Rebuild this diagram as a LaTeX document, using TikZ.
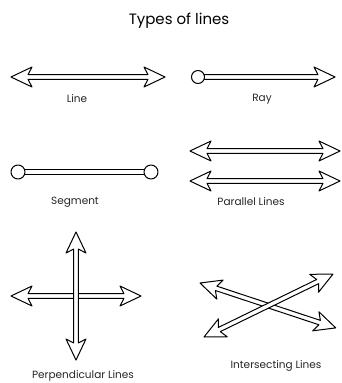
\documentclass[tikz,border=0pt]{standalone}
\usepackage{fontspec}
\setmainfont{Poppins}
\newcommand\hollowdbl[1]{%
  \path[arrowshape] (0,0) -- (21,10) -- (17,2.3) -- (#1-17,2.3) -- (#1-21,10) -- (#1,0)
    -- (#1-21,-10) -- (#1-17,-2.3) -- (17,-2.3) -- (21,-10) -- cycle;}
\newcommand\hollowray[2]{% #1 length, #2 circle radius
  \path[arrowshape] (#2-0.5,2.3) -- (#1-17,2.3) -- (#1-21,10) -- (#1,0)
    -- (#1-21,-10) -- (#1-17,-2.3) -- (#2-0.5,-2.3) -- cycle;
  \path[arrowshape] (0,0) circle (#2);}
\newcommand\hollowseg[2]{%
  \path[arrowshape] (0,2.3) -- (#1,2.3) -- (#1,-2.3) -- (0,-2.3) -- cycle;
  \path[arrowshape] (0,0) circle (#2) (#1,0) circle (#2);}
\tikzset{
  arrowshape/.style={draw=black, fill=white, line width=1pt, line join=round},
  lbl/.style={font=\fontsize{10.5}{12}\selectfont, text=black!85, inner sep=0pt},
}
\begin{document}
\begin{tikzpicture}[x=1pt,y=1pt]
\useasboundingbox[fill=white] (0,0) rectangle (341,-383);
\node[font=\fontsize{15}{18}\selectfont, inner sep=0pt] (title) at (179,-21) {Types of lines};
% Line
\begin{scope}[shift={(11,-77)}] \hollowdbl{154} \end{scope}
\node[lbl] (line) at (77,-99) {Line};
% Ray
\begin{scope}[shift={(198,-77)}] \hollowray{137}{6.5} \end{scope}
\node[lbl] (ray) at (262,-99) {Ray};
% Segment
\begin{scope}[shift={(18,-172)}] \hollowseg{133}{7} \end{scope}
\node[lbl] (seg) at (75,-202) {Segment};
% Parallel
\begin{scope}[shift={(190,-151)}] \hollowdbl{150} \end{scope}
\begin{scope}[shift={(190,-181)}] \hollowdbl{150} \end{scope}
\node[lbl] (par) at (251,-202) {Parallel Lines};
% Perpendicular
\begin{scope}[shift={(11,-296)}] \hollowdbl{130} \end{scope}
\begin{scope}[shift={(76,-232)},rotate=-90] \hollowdbl{128} \end{scope}
\node[lbl] (perp) at (83,-376) {Perpendicular Lines};
% Intersecting
\begin{scope}[shift={(200,-283)},rotate=-18.3] \hollowdbl{143} \end{scope}
\begin{scope}[shift={(204,-337)},rotate=26.0] \hollowdbl{143.5} \end{scope}
\node[lbl] (inter) at (276,-366) {Intersecting Lines};
\end{tikzpicture}
\end{document}
